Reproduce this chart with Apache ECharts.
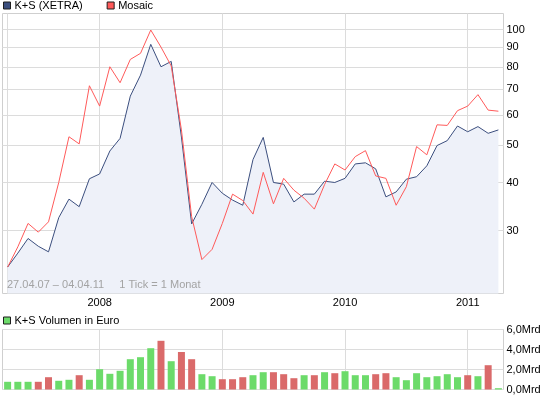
<!DOCTYPE html>
<html>
<head>
<meta charset="utf-8">
<script src="https://cdn.jsdelivr.net/npm/echarts@6/dist/echarts.min.js"></script>
<style>
  html, body { margin: 0; padding: 0; background: #fff; }
  #chart { width: 545px; height: 398px; }
</style>
</head>
<body>
<div id="chart"></div>
<script>
// monthly points, 04.2007 - 04.2011
var months = ['04.07','05.07','06.07','07.07','08.07','09.07','10.07','11.07','12.07',
  '01.08','02.08','03.08','04.08','05.08','06.08','07.08','08.08','09.08','10.08','11.08','12.08',
  '01.09','02.09','03.09','04.09','05.09','06.09','07.09','08.09','09.09','10.09','11.09','12.09',
  '01.10','02.10','03.10','04.10','05.10','06.10','07.10','08.10','09.10','10.10','11.10','12.10',
  '01.11','02.11','03.11','04.11'];

var ksPrice = [24.1, 26.2, 28.6, 27.3, 26.4, 32.4, 36.2, 34.6, 40.9,
  42.1, 48.3, 52.1, 67.1, 76.1, 91.5, 80.0, 82.6, 52.5, 31.2, 35.1, 40.0,
  37.5, 36.0, 34.9, 45.9, 52.4, 40.0, 39.6, 35.6, 37.3, 37.3, 40.3, 40.0,
  41.0, 44.7, 45.0, 43.4, 36.7, 37.8, 40.8, 41.4, 44.2, 49.9, 51.4, 56.1,
  54.2, 55.9, 53.7, 54.8];

var mosaicPrice = [24.1, 27.2, 31.3, 29.7, 31.6, 40.0, 52.6, 50.4, 71.4,
  63.2, 80.0, 72.7, 83.6, 86.7, 99.7, 90.0, 80.4, 54.8, 32.6, 25.2, 26.8,
  31.3, 37.3, 35.9, 33.1, 42.5, 35.2, 41.0, 38.2, 36.4, 34.1, 39.5, 44.7,
  43.1, 46.7, 48.4, 41.6, 41.0, 34.9, 39.0, 49.6, 47.2, 56.5, 56.3, 61.5,
  63.2, 67.7, 61.7, 61.3];

// volume in Mrd Euro, 1 = month closed up (green), 0 = down (red)
var volume = [0.77, 0.77, 0.77, 0.77, 1.23, 0.87, 0.97, 1.43, 0.97,
  2.03, 1.57, 1.87, 3.03, 3.23, 4.13, 4.87, 2.83, 3.75, 3.03, 1.53, 1.33,
  1.03, 1.03, 1.23, 1.43, 1.73, 1.73, 1.53, 1.13, 1.43, 1.43, 1.73, 1.63,
  1.83, 1.43, 1.43, 1.53, 1.63, 1.23, 0.93, 1.63, 1.23, 1.33, 1.53, 1.23,
  1.43, 1.33, 2.43, 0.13];
var volumeUp = [1,1,1,0,0,1,1,0,1, 1,1,1,1,1,1,0,1,0,0,1,1, 0,0,0,1,1,0,0,0,1,0,1,0,
  1,1,1,0,0,1,1,1,1,1,1,1, 0,1,0,1];

var priceTicks = [30, 40, 50, 60, 70, 80, 90, 100];
var dateRangeText = '27.04.07 \u2013 04.04.11     1 Tick = 1 Monat';

var FONT = 'Liberation Sans';
var GRID_LINE = '#dcdcdc';
var BORDER = '#cfcfcf';
var UP = '#6cdb6a', DOWN = '#da6a6a';

var myChart = echarts.init(document.getElementById('chart'), null, {renderer: 'canvas'});

function isJan(idx) { return months[idx].slice(0, 2) === '01'; }

var volData = volume.map(function (v, i) {
  return volumeUp[i] ? v : {value: v, itemStyle: {color: DOWN}};
});

var option = {
  animation: false,
  textStyle: {fontFamily: FONT},
  legend: [{
    data: ['K+S (XETRA)', 'Mosaic'],
    left: 3, top: 0, padding: 0,
    icon: 'rect', itemWidth: 7, itemHeight: 7, itemGap: 24,
    itemStyle: {borderColor: '#1e1e1e', borderWidth: 1},
    textStyle: {fontSize: 11, color: '#000', fontFamily: FONT, padding: [0, 0, 0, -1]}
  }, {
    data: ['K+S Volumen in Euro'],
    left: 3, top: 315, padding: 0,
    icon: 'rect', itemWidth: 7, itemHeight: 7,
    itemStyle: {borderColor: '#1e1e1e', borderWidth: 1},
    textStyle: {fontSize: 11, color: '#000', fontFamily: FONT, padding: [0, 0, 0, -1]}
  }],
  graphic: [{
    type: 'text', left: 7, top: 279, z: 100,
    style: {text: dateRangeText, fill: '#a3a3a3', font: '11px "Liberation Sans"'}
  }],
  grid: [
    {left: 2.5, top: 13.5, width: 501, height: 280, show: true,
     borderColor: BORDER, borderWidth: 1, backgroundColor: 'transparent'},
    {left: 2.5, top: 329.5, width: 501, height: 60, show: true,
     borderColor: BORDER, borderWidth: 1, backgroundColor: 'transparent'}
  ],
  xAxis: [{
    type: 'category', gridIndex: 0, data: months, boundaryGap: true,
    axisLine: {show: false}, axisTick: {show: false},
    axisLabel: {
      interval: function (idx) { return isJan(idx); },
      formatter: function (v) { return '20' + v.slice(3); },
      fontSize: 11, color: '#000', margin: 4
    },
    splitLine: {
      show: true, alignWithLabel: true,
      interval: function (idx) { return idx === 0 || isJan(idx); },
      lineStyle: {color: GRID_LINE, width: 1}
    }
  }, {
    type: 'category', gridIndex: 1, data: months, boundaryGap: true,
    axisLine: {show: false}, axisTick: {show: false}, axisLabel: {show: false},
    splitLine: {
      show: true, alignWithLabel: true,
      interval: function (idx) { return isJan(idx); },
      lineStyle: {color: GRID_LINE, width: 1}
    }
  }],
  yAxis: [{
    type: 'log', gridIndex: 0, position: 'right', min: 20.57, max: 110.06,
    axisLine: {show: false},
    axisTick: {show: false, customValues: priceTicks},
    axisLabel: {customValues: priceTicks, fontSize: 11, color: '#000', margin: 3},
    splitLine: {show: true, lineStyle: {color: GRID_LINE, width: 1}}
  }, {
    type: 'value', gridIndex: 1, position: 'right', min: 0, max: 6, interval: 2,
    axisLine: {show: false}, axisTick: {show: false},
    axisLabel: {
      fontSize: 11, color: '#000', margin: 3,
      formatter: function (v) { return v.toFixed(1).replace('.', ',') + 'Mrd'; }
    },
    splitLine: {show: true, lineStyle: {color: GRID_LINE, width: 1}}
  }],
  series: [{
    name: 'K+S (XETRA)', type: 'line', xAxisIndex: 0, yAxisIndex: 0,
    data: ksPrice, symbol: 'none', z: 3,
    itemStyle: {color: '#3b4e7e'},
    lineStyle: {color: '#3b4e7e', width: 1},
    areaStyle: {color: '#eef1f9', opacity: 1, origin: 'start'}
  }, {
    name: 'Mosaic', type: 'line', xAxisIndex: 0, yAxisIndex: 0,
    data: mosaicPrice, symbol: 'none', z: 4,
    itemStyle: {color: '#ff5a5a'},
    lineStyle: {color: '#ff5a5a', width: 1}
  }, {
    name: 'K+S Volumen in Euro', type: 'bar', xAxisIndex: 1, yAxisIndex: 1,
    data: volData, barWidth: 7,
    itemStyle: {color: UP}
  }]
};

myChart.setOption(option);
</script>
</body>
</html>
